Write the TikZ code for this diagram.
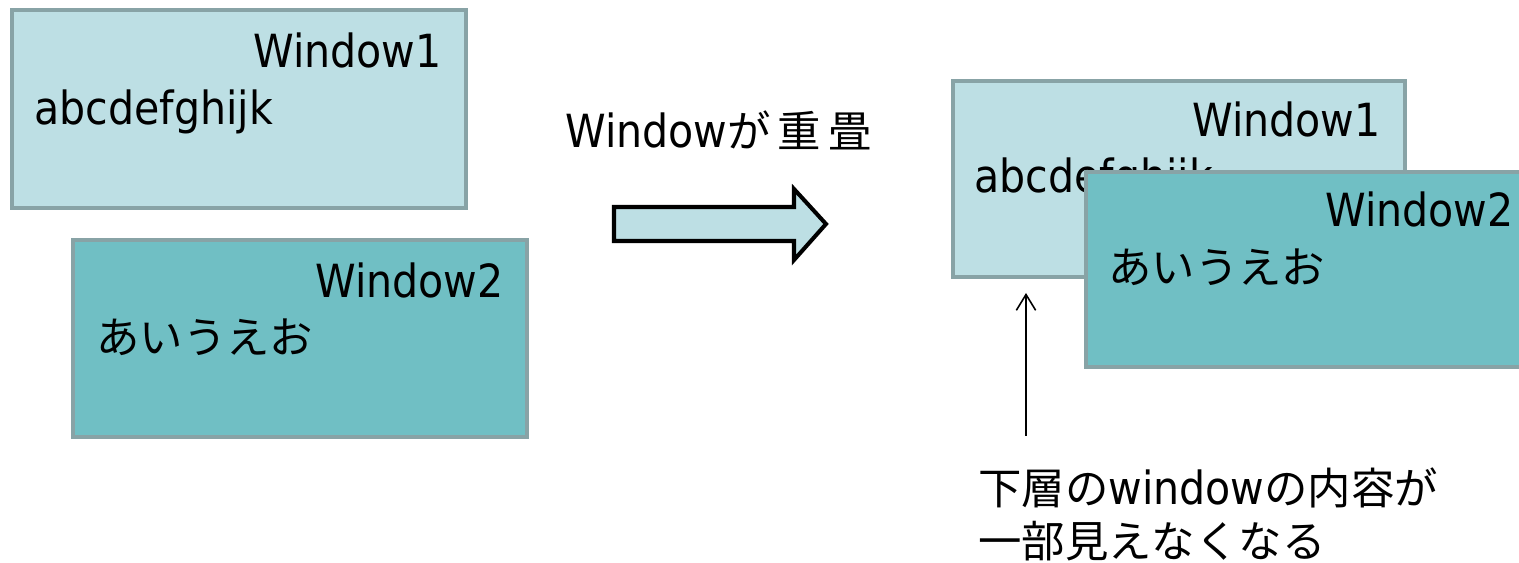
\documentclass[tikz,border=0pt]{standalone}
\usepackage{fontspec}
\setmainfont{DejaVu Sans Condensed}
\newfontfamily\jp[Scale=0.95]{Noto Sans CJK JP}
\usetikzlibrary{arrows.meta}
\definecolor{winlight}{HTML}{BDDFE4}
\definecolor{windark}{HTML}{70BFC4}
\definecolor{winframe}{HTML}{88A3A6}
\begin{document}
\begin{tikzpicture}[x=0.02cm,y=-0.02cm,
		back/.style={draw=winframe,line width=2.3pt,fill=winlight},
		front/.style={draw=winframe,line width=2.3pt,fill=windark},
		txt/.style={inner sep=0pt,font=\fontsize{26}{30}\selectfont}]
		\useasboundingbox (0,0) rectangle (1519,563);
		\clip (0,0) rectangle (1519,563);
		% before: two separate windows
		\draw[back] (12,10) rectangle (466,208);
		\node[txt,anchor=base east] (lw1) at (442,68) {Window1};
		\node[txt,anchor=base west] (ltext) at (34,125) {abcdefghijk};
		\draw[front] (73,240) rectangle (527,437);
		\node[txt,anchor=base east] (lw2) at (504,298) {Window2};
		\node[txt,anchor=base west] (lkana) at (96,354) {\jp あいうえお};
		% step arrow
		\node[txt,anchor=base west] (overlap) at (565,148) {Window{\jp が\,重\,畳}};
		\draw[line width=2.3pt,fill=winlight,line join=miter]
			(614,207) -- (794,207) -- (794,189) -- (826,224) -- (794,260)
			-- (794,241) -- (614,241) -- cycle;
		% after: window2 on top of window1
		\draw[back] (953,81) rectangle (1405,277);
		\node[txt,anchor=base east] (rw1) at (1381,137) {Window1};
		\node[txt,anchor=base west] (rtext) at (974,193) {abcdefghijk};
		\draw[front] (1086,172) rectangle (1540,367);
		\node[txt,anchor=base east] (rw2) at (1514,227) {Window2};
		\node[txt,anchor=base west] (rkana) at (1108,284) {\jp あいうえお};
		% note
		\node[txt,anchor=base west] (note1) at (978,505) {\jp 下層の\rmfamily window\jp の内容が};
		\node[txt,anchor=base west] (note2) at (978,558) {\jp 一部見えなくなる};
		\coordinate (tail) at (1026,436);
		\coordinate (hid) at (1026,293);
		\draw[line width=0.9pt,-{Straight Barb[length=9pt,width=11pt]}] (tail) -- (hid);
	\end{tikzpicture}
\end{document}
